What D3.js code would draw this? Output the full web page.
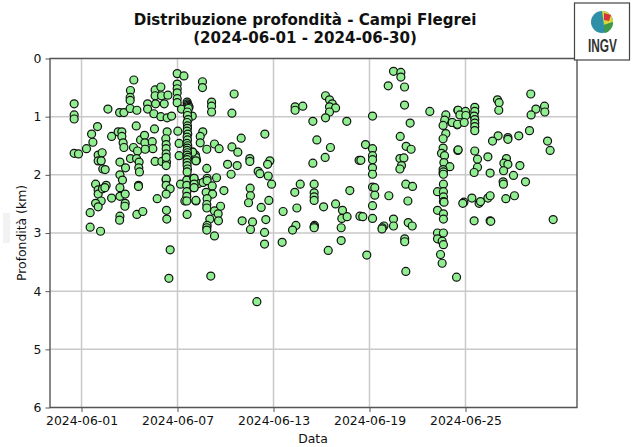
<!DOCTYPE html>
<html><head><meta charset="utf-8">
<script src="https://cdn.jsdelivr.net/npm/d3@7/dist/d3.min.js"></script>
<style>html,body{margin:0;padding:0;background:#fff}svg{display:block}text{font-family:"DejaVu Sans",sans-serif;fill:#111}</style>
</head><body><div id="c"></div>
<script>
const titleLines = ["Distribuzione profondità - Campi Flegrei", "(2024-06-01 - 2024-06-30)"];
const xLabel = "Data";
const yLabel = "Profondità (km)";
const depthTicks = [0,1,2,3,4,5,6];
const dateTicks = ["2024-06-01","2024-06-07","2024-06-13","2024-06-19","2024-06-25"];
const dateDomain = ["2024-05-30T00:43Z","2024-07-01T23:16Z"];
const depthDomain = [6,0];
// days elapsed since 2024-06-01 00:00 UTC, one entry per event
const eventDays = [
-.46,-.46,-.46,-.46,-.19,.31,.71,.63,1.0,1.65,
2.38,2.65,3.27,3.06,3.04,3.04,3.04,3.46,4.13,4.13,
4.52,4.6,4.96,4.6,5,5.4,4.63,5.17,4.96,5.35,
5.63,5.98,6.4,5.98,5.98,5.98,5.98,5.98,6.25,6.6,
6.92,6.02,6.1,6.1,3.42,4.56,5.35,5.27,1.88,2.29,
2.52,2.52,2.6,2.65,3.25,3.5,3.69,3.94,3.96,4.42,
4.46,3.98,1.04,1.29,1.04,1.23,1.33,1.48,2.4,2.75,
3.06,3.44,3.6,3.58,3.62,4.6,5.02,5.31,5.29,5.29,
5.29,5.29,5.29,5.29,7.12,6.96,7.19,
.88,1.04,1.04,1.31,1.54,1.46,2.4,2.56,2.4,1.88,
2.4,2.73,2.73,2.71,1.23,.88,1.04,.54,.54,1.19,
2.4,2.38,3.46,3.83,3.56,3.56,4.73,5.29,5.29,5.54,
5.29,5.31,5.33,5.54,5.46,6.19,6.58,6.58,7.02,7.02,
7.02,7.31,6.58,6.58,6.46,6.58,7.15,6.6,
7.56,7.56,8.13,8.13,8.13,9.54,9.4,7.58,7.42,7.42,
7.83,8.31,8.6,7.15,6.94,7.15,9.98,11.46,9.4,9.77,
9.13,9.73,10.52,10.52,11.77,11.63,7.83,9.35,11.04,11.15,
11.67,11.88,13.67,14.54,13.35,13.35,13.83,15.25,15.5,15.67,
15.5,15.88,15.5,15.25,14.46,16.58,14.71,15.56,15.23,14.46,17.35,
7.04,7.04,7.04,7.6,7.85,7.85,8.17,8.44,7.79,8.19,
8.9,7.85,7.83,7.83,7.15,8.69,8.31,8.54,8.02,8.56,
7.85,7.83,7.83,8.31,8.08,10.54,10.56,10.44,11.71,11.23,
10.04,10.69,11.52,10.56,11.44,11.44,12.54,10.96,13.33,14.54,
14.54,14.54,16.77,15.13,15.88,13.46,12.6,16.31,16.27,16.6,
13.4,13.19,14.56,14.54,14.54,16.23,16.23,15.42,17.4,
19.5,19.96,19.96,19.17,20.19,20.19,21.77,18.19,20.54,19.92,
22.77,22.7,22.6,23.15,23.48,23.52,22.77,22.6,20.29,20.6,
22.6,22.5,22.69,17.75,18.19,18.19,18.19,17.46,18.19,18.19,
19.9,20.15,20,19.9,22.65,23.02,22.6,22.6,23.52,
18.19,18.33,18.33,19.21,18.19,17.58,18.19,19.5,19.5,18.9,
18.8,18.78,20.27,20.69,20.4,20.42,20.67,20.2,20.2,17.83,
20.27,22.62,22.62,22.62,22.25,22.62,22.62,22.62,22.66,22.25,
22.62,22.62,22.25,22.62,22.25,22.54,22.62,22.44,22.54,23.44,
24.85,24.94,25.4,25.54,25.54,
28.08,26,26.1,26.08,28.94,28.96,28.4,28.1,24.58,24.58,
24.54,23.54,24,23.65,24.02,23.17,23.5,23.92,24.58,24.58,
24.58,24.58,26.04,25.69,26.65,26.65,27.33,28,29.13,29.29,
23.54,24.58,24.75,25.4,24.75,24.54,26.56,26.4,26.65,26.38,
27.4,27,27.75,26.35,26.37,27.06,26.52,25.54,24.4,23.9,
23.83,24.54,25.58,29.48,
6.62,6.66,6.7,6.72,6.68,6.62,6.62,6.66,6.6,6.62,
6.62,6.6,6.64,6.6,6.62,6.6,6.64,6.62,6.6,6.62,
6.6,6.64,6.6,6.6,6.6,6.62,6.6
];
const eventDepths = [
.78,.97,1.04,1.63,1.64,1.55,1.44,1.30,1.17,.87,
.93,.93,.37,.55,.67,.72,.86,.89,.78,.87,
.95,.54,.49,.64,.64,.63,.78,.78,1.0,1.02,
.99,.26,.30,.44,.52,.59,.69,.76,.87,.75,
.99,1.25,1.46,1.67,1.16,1.21,1.26,1.38,1.34,1.26,
1.26,1.34,1.45,1.53,1.53,1.59,1.40,1.32,1.45,1.43,
1.55,1.56,1.66,1.62,1.76,1.76,1.90,1.91,1.78,1.88,
1.72,1.72,1.78,1.88,1.95,1.77,1.77,1.78,1.48,1.55,
1.64,1.70,1.84,2.09,1.66,1.61,1.75,
2.16,2.26,2.33,2.24,2.18,2.22,2.0,2.09,2.22,2.40,
2.37,2.33,2.49,2.54,2.45,2.49,2.55,2.65,2.90,2.97,
2.71,2.78,2.68,2.63,2.18,2.20,2.41,2.07,2.18,2.24,
2.33,2.61,2.76,3.29,3.78,2.16,2.09,2.18,2.06,2.15,
2.22,2.15,2.29,2.37,2.45,2.45,2.45,2.68,
.40,.50,.75,.82,.92,.61,.94,1.26,1.34,1.45,
1.56,1.47,1.55,1.70,1.61,1.76,1.37,1.30,1.52,1.61,
1.82,1.84,1.72,1.77,1.76,1.82,1.89,1.99,1.94,1.98,
2.02,2.16,2.16,2.16,.83,.89,.82,.64,.71,.78,
.83,.85,.92,1.02,1.08,1.08,1.40,1.53,1.70,1.80,1.75,
2.06,2.16,2.22,2.13,2.06,2.10,2.19,2.05,2.30,2.33,
2.27,2.41,2.51,2.57,2.44,2.54,2.62,2.67,2.76,2.79,
2.87,2.91,2.95,3.05,3.74,2.23,2.36,2.48,2.44,2.56,
2.79,2.81,2.77,2.94,2.99,3.19,3.16,4.18,2.30,2.31,
2.38,2.44,2.27,2.55,2.50,2.57,2.63,2.61,2.75,2.72,
2.87,2.95,2.87,2.89,2.91,2.91,3.13,3.30,2.71,
.22,.24,.32,.47,.49,.80,.91,.99,1.11,1.34,
.97,1.06,1.15,1.10,1.14,.89,1.29,1.38,1.51,1.56,
1.54,1.63,1.67,1.48,1.55,1.67,1.74,1.75,1.88,1.99,
1.72,1.71,1.84,1.90,1.79,1.86,1.91,1.97,1.58,
2.21,2.22,2.35,2.36,2.53,2.72,2.75,2.76,2.88,2.88,
2.91,2.93,2.16,2.20,2.45,2.82,2.88,3.10,3.15,3.38,
3.66,1.95,1.99,2.16,2.29,2.29,2.38,2.46,2.47,2.61,
2.67,2.76,3.0,3.0,3.10,3.14,3.20,3.37,3.52,3.76,
2.49,2.46,2.40,2.79,1.97,
.61,.71,.76,.89,.82,.92,.87,.97,.84,.91,
.99,.89,.91,.97,.98,1.10,1.13,1.10,1.05,1.11,
1.17,1.24,1.33,1.42,1.36,1.39,1.33,1.24,1.42,1.58,
1.57,1.59,1.73,1.69,1.87,1.96,1.72,1.80,1.82,1.93,
1.84,2.01,2.12,2.12,2.16,2.36,2.41,2.36,2.40,2.47,
2.49,2.79,2.80,2.77,
.78,.8,.82,.84,.86,.92,.98,1.05,1.1,1.16,
1.2,1.25,1.3,1.35,1.4,1.46,1.5,1.54,1.58,1.62,
1.66,1.7,1.74,1.79,1.84,1.9,1.95
];

const W = 632, H = 447;
const plotL = 50, plotR = 577, plotT = 58.5, plotB = 407.5;
const dayMs = 864e5, origin = Date.UTC(2024, 5, 1);
const toDate = d => new Date(origin + d * dayMs);

const svg = d3.select("#c").append("svg").attr("width", W).attr("height", H);
const x = d3.scaleUtc().domain(dateDomain.map(s => new Date(s))).range([plotL, plotR]);
const y = d3.scaleLinear().domain(depthDomain).range([plotB, plotT]);
const parseTick = d3.utcParse("%Y-%m-%d");
const tickDates = dateTicks.map(parseTick);

// faint smudge on the left edge of the source picture
svg.append("rect").attr("x",3).attr("y",213).attr("width",7).attr("height",30).attr("fill","#f2f2f2");

// grid
const grid = svg.append("g").attr("stroke", "#c9c9c9").attr("stroke-width", 1.5);
grid.selectAll("line.v").data(tickDates).join("line").attr("class","v")
  .attr("x1", d => x(d)).attr("x2", d => x(d)).attr("y1", plotT).attr("y2", plotB);
grid.selectAll("line.h").data(depthTicks).join("line").attr("class","h")
  .attr("x1", plotL).attr("x2", plotR).attr("y1", d => y(d)).attr("y2", d => y(d));

// points
svg.append("g").selectAll("circle").data(d3.zip(eventDays, eventDepths)).join("circle")
  .attr("cx", d => x(toDate(d[0]))).attr("cy", d => y(d[1])).attr("r", 4)
  .attr("fill", "#90ee90").attr("stroke", "#111").attr("stroke-width", 1.2);

// spines + axes
const ax = svg.append("g").attr("transform", `translate(0,${plotB})`)
  .call(d3.axisBottom(x).tickValues(tickDates).tickFormat(d3.utcFormat("%Y-%m-%d")).tickSizeOuter(0).tickSize(4.5).tickPadding(4));
const ay = svg.append("g").attr("transform", `translate(${plotL},0)`)
  .call(d3.axisLeft(y).tickValues(depthTicks).tickFormat(d3.format("d")).tickSizeOuter(0).tickSize(4.5).tickPadding(4));
for (const a of [ax, ay]) {
  a.attr("font-family", '"DejaVu Sans",sans-serif').attr("font-size", 12.4);
  a.selectAll("line").attr("stroke", "#444").attr("stroke-width", .9);
  a.selectAll("text").attr("fill", "#111");
  a.select(".domain").remove();
}
svg.append("rect").attr("x", plotL).attr("y", plotT).attr("width", plotR-plotL).attr("height", plotB-plotT)
  .attr("fill", "none").attr("stroke", "#555").attr("stroke-width", 1.4);

// titles
svg.append("g").selectAll("text").data(titleLines).join("text")
  .attr("x", 305).attr("y", (d,i) => 25 + i*18).attr("text-anchor","middle")
  .attr("font-weight","bold").attr("font-size",15.1).text(d => d);
svg.append("text").attr("x",313).attr("y",443).attr("text-anchor","middle").attr("font-size",12.4).text(xLabel);
svg.append("text").attr("transform","translate(25.5,233) rotate(-90)").attr("text-anchor","middle").attr("font-size",12.4).text(yLabel);

// logo
const logo = svg.append("g");
logo.append("rect").attr("x",574.5).attr("y",3).attr("width",55).attr("height",57).attr("fill","#fff").attr("stroke","#444").attr("stroke-width",1.2);
logo.append("circle").attr("cx",602).attr("cy",22).attr("r",11).attr("fill","#2f8fa8");
logo.append("path").attr("d","M602 11 A11 11 0 0 1 613 22 L604 25 Z").attr("fill","#d6d83a");
logo.append("path").attr("d","M604 13 L611 15 L609 21 L604 20 Z").attr("fill","#d8353a");
logo.append("path").attr("d","M604 25 L613 22 A11 11 0 0 1 605 33 Z").attr("fill","#3f9a46");
logo.append("text").attr("x",588).attr("y",52).attr("textLength",29).attr("lengthAdjust","spacingAndGlyphs")
  .style("font-family",'"Liberation Sans",sans-serif')
  .attr("font-weight","bold").attr("font-size",18).style("fill","#333").text("INGV");
</script></body></html>
